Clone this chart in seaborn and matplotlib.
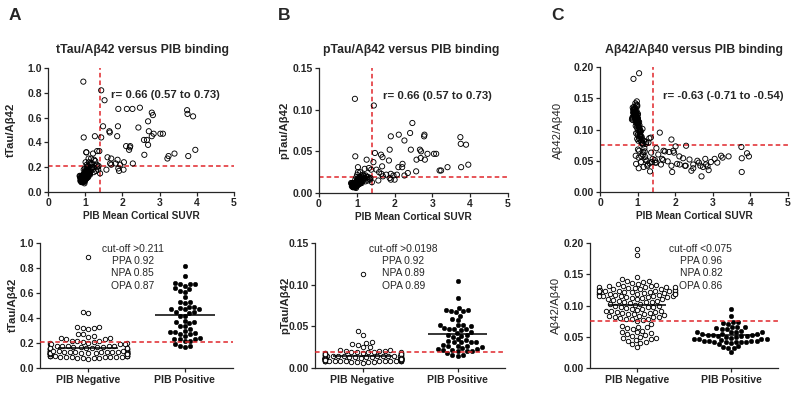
import numpy as np
import pandas as pd
import matplotlib
matplotlib.use("Agg")
import matplotlib.pyplot as plt
import seaborn as sns

sns.set_style("ticks")
plt.rcParams['font.family'] = ['Liberation Sans', 'DejaVu Sans']

# ---------------- data ----------------
categories = ["PIB Negative", "PIB Positive"]

pib_neg = [0.92, 1.05, 0.98, 1.12, 0.89, 1.01, 0.95, 1.08, 0.97, 1.03,
           0.90, 1.15, 0.99, 1.06, 0.94, 1.10, 0.87, 1.02, 0.96, 1.21,
           1.00, 0.93, 1.07, 0.91, 1.04, 0.98, 1.13, 0.88, 1.01, 0.95,
           1.18, 0.97, 1.09, 0.92, 1.26, 1.03, 0.99, 0.86, 1.11, 0.94,
           1.05, 1.00, 0.90, 1.14, 0.96, 1.32, 1.02, 0.93, 1.08, 0.98,
           1.24, 0.91, 1.06, 0.97, 1.00, 1.17, 0.89, 1.04, 0.95, 1.38,
           0.99, 1.12, 0.93, 1.07, 1.01, 0.85, 1.29, 0.96, 1.03, 0.92,
           1.10, 0.98, 1.35, 0.94, 1.05, 1.00, 0.90, 1.16, 0.97, 1.02,
           0.88, 1.22, 0.95, 1.08, 0.99, 1.04, 0.93, 1.40, 1.01, 0.96,
           1.13, 0.91, 1.06, 0.98, 1.19, 0.94, 1.03, 0.87, 1.31, 1.00,
           0.97, 1.09, 0.92, 1.02, 1.27, 0.95, 1.05, 0.99, 0.90, 1.14,
           1.01, 0.94, 1.36, 0.98, 1.07, 0.93, 1.20, 0.96, 1.04, 0.89,
           1.23, 0.97, 1.33, 1.00, 0.95]

ttau_neg = [0.12, 0.15, 0.10, 0.18, 0.09, 0.13, 0.89, 0.16, 0.11, 0.14,
            0.08, 0.22, 0.12, 0.17, 0.10, 0.14, 0.13, 0.11, 0.44, 0.31,
            0.15, 0.09, 0.13, 0.11, 0.19, 0.12, 0.16, 0.10, 0.24, 0.14,
            0.20, 0.11, 0.27, 0.13, 0.45, 0.32, 0.09, 0.12, 0.15, 0.08,
            0.12, 0.17, 0.10, 0.23, 0.14, 0.33, 0.11, 0.13, 0.18, 0.07,
            0.26, 0.12, 0.14, 0.10, 0.16, 0.19, 0.11, 0.22, 0.13, 0.33,
            0.09, 0.15, 0.12, 0.21, 0.10, 0.13, 0.17, 0.11, 0.14, 0.12,
            0.24, 0.13, 0.18, 0.09, 0.12, 0.15, 0.10, 0.27, 0.08, 0.16,
            0.11, 0.20, 0.14, 0.12, 0.19, 0.13, 0.09, 0.15, 0.11, 0.18,
            0.14, 0.10, 0.16, 0.12, 0.23, 0.13, 0.32, 0.09, 0.22, 0.12,
            0.10, 0.14, 0.11, 0.17, 0.25, 0.12, 0.13, 0.15, 0.08, 0.19,
            0.12, 0.11, 0.21, 0.14, 0.16, 0.10, 0.18, 0.13, 0.11, 0.12,
            0.16, 0.14, 0.20, 0.13, 0.11]

ptau_neg = [0.011, 0.013, 0.009, 0.016, 0.008, 0.012, 0.113, 0.014, 0.010, 0.012,
            0.007, 0.021, 0.011, 0.015, 0.009, 0.013, 0.012, 0.010, 0.044, 0.029,
            0.013, 0.008, 0.012, 0.010, 0.017, 0.011, 0.014, 0.009, 0.022, 0.012,
            0.018, 0.010, 0.025, 0.011, 0.040, 0.031, 0.008, 0.011, 0.013, 0.007,
            0.011, 0.015, 0.009, 0.019, 0.012, 0.030, 0.010, 0.011, 0.016, 0.006,
            0.021, 0.011, 0.012, 0.009, 0.014, 0.017, 0.010, 0.018, 0.011, 0.028,
            0.008, 0.013, 0.011, 0.019, 0.009, 0.012, 0.015, 0.010, 0.012, 0.011,
            0.018, 0.012, 0.016, 0.008, 0.011, 0.013, 0.009, 0.022, 0.007, 0.014,
            0.010, 0.018, 0.012, 0.011, 0.019, 0.012, 0.008, 0.013, 0.010, 0.016,
            0.012, 0.009, 0.014, 0.011, 0.021, 0.012, 0.025, 0.008, 0.019, 0.011,
            0.009, 0.012, 0.010, 0.015, 0.019, 0.011, 0.012, 0.013, 0.007, 0.017,
            0.011, 0.010, 0.018, 0.012, 0.014, 0.009, 0.016, 0.012, 0.010, 0.011,
            0.014, 0.012, 0.017, 0.011, 0.010]

ab_neg = [0.125, 0.098, 0.118, 0.078, 0.131, 0.112, 0.058, 0.089, 0.122, 0.105,
          0.136, 0.064, 0.115, 0.093, 0.128, 0.081, 0.120, 0.108, 0.045, 0.052,
          0.110, 0.132, 0.097, 0.124, 0.086, 0.119, 0.078, 0.127, 0.068, 0.116,
          0.070, 0.121, 0.048, 0.129, 0.042, 0.055, 0.139, 0.118, 0.088, 0.142,
          0.102, 0.095, 0.133, 0.060, 0.117, 0.046, 0.113, 0.126, 0.083, 0.145,
          0.050, 0.123, 0.100, 0.130, 0.091, 0.082, 0.181, 0.066, 0.114, 0.048,
          0.137, 0.084, 0.119, 0.088, 0.125, 0.116, 0.079, 0.121, 0.104, 0.127,
          0.057, 0.111, 0.087, 0.134, 0.096, 0.106, 0.122, 0.040, 0.140, 0.099,
          0.115, 0.077, 0.124, 0.090, 0.085, 0.112, 0.129, 0.053, 0.118, 0.094,
          0.101, 0.126, 0.092, 0.120, 0.065, 0.117, 0.038, 0.135, 0.086, 0.109,
          0.128, 0.097, 0.121, 0.082, 0.044, 0.113, 0.107, 0.124, 0.130, 0.076,
          0.116, 0.120, 0.063, 0.103, 0.091, 0.125, 0.056, 0.119, 0.190, 0.132,
          0.080, 0.110, 0.033, 0.123, 0.106]

pib_pos_a = [1.43, 1.48, 1.43, 1.65, 1.66, 1.89, 1.88, 1.86, 2.12, 2.27,
             2.47, 2.43, 2.10, 2.21, 2.20, 2.18, 1.60, 1.70, 1.70, 1.67,
             1.57, 1.87, 1.82, 1.91, 1.89, 2.03, 2.04, 1.94, 2.28, 2.69,
             2.79, 2.82, 2.71, 2.84, 2.79, 2.58, 2.66, 2.69, 2.59, 3.02,
             3.09, 3.21, 3.24, 3.40, 3.74, 3.75, 3.90, 3.77, 3.96, 1.52]
ttau_pos = [0.82, 0.53, 0.44, 0.49, 0.48, 0.67, 0.53, 0.45, 0.67, 0.67,
            0.68, 0.52, 0.37, 0.37, 0.36, 0.34, 0.28, 0.27, 0.22, 0.23,
            0.18, 0.26, 0.23, 0.17, 0.19, 0.18, 0.24, 0.22, 0.23, 0.57,
            0.64, 0.62, 0.49, 0.47, 0.45, 0.42, 0.42, 0.38, 0.30, 0.47,
            0.47, 0.27, 0.29, 0.31, 0.66, 0.63, 0.61, 0.29, 0.34, 0.74]

pib_pos_b = [1.45, 1.48, 1.44, 1.64, 1.68, 1.90, 2.11, 2.26, 2.41, 2.47,
             2.79, 2.78, 2.43, 2.67, 2.70, 2.69, 2.58, 2.80, 2.87, 3.04,
             3.10, 1.87, 1.85, 2.10, 2.20, 2.21, 2.57, 1.90, 1.97, 2.06,
             2.26, 1.67, 1.59, 1.65, 1.69, 1.87, 1.90, 2.00, 3.19, 3.23,
             3.40, 3.74, 3.75, 3.89, 3.76, 3.95, 1.57, 1.52, 1.78, 2.35]
ptau_pos = [0.105, 0.048, 0.037, 0.046, 0.043, 0.068, 0.070, 0.063, 0.072, 0.084,
            0.070, 0.068, 0.052, 0.052, 0.050, 0.042, 0.040, 0.040, 0.047, 0.047,
            0.047, 0.052, 0.039, 0.031, 0.031, 0.035, 0.026, 0.023, 0.021, 0.022,
            0.021, 0.032, 0.025, 0.023, 0.020, 0.018, 0.016, 0.016, 0.027, 0.027,
            0.031, 0.067, 0.059, 0.058, 0.031, 0.034, 0.015, 0.028, 0.022, 0.024]

pib_pos_c = [1.59, 1.50, 1.90, 2.01, 2.29, 1.69, 1.73, 1.84, 1.95, 1.97,
             2.11, 2.21, 1.65, 1.50, 1.62, 1.68, 1.90, 1.92, 2.12, 2.26,
             2.28, 2.43, 2.48, 2.48, 2.59, 2.63, 2.67, 2.70, 2.74, 2.80,
             2.82, 2.86, 2.89, 3.05, 3.12, 3.22, 3.26, 3.42, 3.76, 3.77,
             3.77, 3.91, 3.96, 1.46, 1.47, 1.55, 1.80, 2.05, 2.38, 2.95]
ab_pos = [0.095, 0.070, 0.084, 0.073, 0.074, 0.066, 0.065, 0.064, 0.066, 0.063,
          0.057, 0.054, 0.053, 0.047, 0.044, 0.051, 0.042, 0.032, 0.044, 0.042,
          0.042, 0.034, 0.038, 0.044, 0.050, 0.047, 0.042, 0.025, 0.040, 0.053,
          0.044, 0.041, 0.035, 0.053, 0.047, 0.058, 0.055, 0.057, 0.072, 0.054,
          0.032, 0.062, 0.057, 0.051, 0.047, 0.060, 0.049, 0.045, 0.052, 0.048]

pib_cut = 1.40
titles = ["tTau/A\u03b242 versus PIB binding", "pTau/A\u03b242 versus PIB binding",
          "A\u03b242/A\u03b240 versus PIB binding"]
ylabels = ["tTau/A\u03b242", "pTau/A\u03b242", "A\u03b242/A\u03b240"]
r_texts = ["r= 0.66 (0.57 to 0.73)", "r= 0.66 (0.57 to 0.73)", "r= -0.63 (-0.71 to -0.54)"]
cutoffs = [0.211, 0.0198, 0.075]
stats_texts = ["cut-off >0.211\nPPA 0.92\nNPA 0.85\nOPA 0.87",
               "cut-off >0.0198\nPPA 0.92\nNPA 0.89\nOPA 0.89",
               "cut-off <0.075\nPPA 0.96\nNPA 0.82\nOPA 0.86"]
yticks = [[0.0, 0.2, 0.4, 0.6, 0.8, 1.0], [0.0, 0.05, 0.10, 0.15], [0.0, 0.05, 0.10, 0.15, 0.20]]
yfmt = ["{:.1f}", "{:.2f}", "{:.2f}"]
xticks_top = [0, 1, 2, 3, 4, 5]

neg_vals = [ttau_neg, ptau_neg, ab_neg]
pos_x = [pib_pos_a, pib_pos_b, pib_pos_c]
pos_vals = [ttau_pos, ptau_pos, ab_pos]

# ---------------- layout (pixels) ----------------
W, H = 800, 394
top_rects = [(48, 68, 234, 192), (319, 68, 508, 193), (600, 67, 788, 192)]
bot_rects = [(40, 243, 233, 368), (315, 243, 505, 368), (590, 243, 778, 368)]
title_x = [142, 411, 694]
letters = [("A", 15), ("B", 284), ("C", 557)]
ylab_top_x = [11, 284, 558]
ylab_bot_x = [13, 285, 556]
ylab_weight = ["bold", "bold", "normal"]
r_pos = [(1.70, 0.78), (1.69, 0.116), (1.68, 0.154)]
stats_x = [0.46, 0.43, 0.68]

RED = "#e0262b"


def rect(l, t, r, b):
    return [l / W, 1 - b / H, (r - l) / W, (b - t) / H]


def style_axis(ax):
    sns.despine(ax=ax)
    for s in ("left", "bottom"):
        ax.spines[s].set_linewidth(0.9)
    ax.tick_params(labelsize=7.5, length=3, width=0.9, pad=1.5, direction="out")
    for lbl in ax.get_xticklabels() + ax.get_yticklabels():
        lbl.set_fontweight("bold")


fig = plt.figure(figsize=(8, 3.94), dpi=100)

for i in range(3):
    # ---- top scatter ----
    ax = fig.add_axes(rect(*top_rects[i]))
    xs = list(pib_neg) + list(pos_x[i])
    ys = list(neg_vals[i]) + list(pos_vals[i])
    sns.scatterplot(x=xs, y=ys, ax=ax, s=14, facecolors="none",
                    edgecolor="black", linewidth=0.65, legend=False)
    ax.axhline(cutoffs[i], color=RED, lw=1.1, ls=(0, (3, 2)), zorder=0)
    ax.axvline(pib_cut, color=RED, lw=1.1, ls=(0, (3, 2)), zorder=0)
    ax.set_xlim(0, 5)
    ax.set_ylim(yticks[i][0], yticks[i][-1])
    ax.set_xticks(xticks_top)
    ax.set_xticklabels([str(t) for t in xticks_top])
    ax.set_yticks(yticks[i])
    ax.set_yticklabels([yfmt[i].format(t) for t in yticks[i]])
    ax.set_xlabel("PIB Mean Cortical SUVR", fontsize=7.3, fontweight="bold", labelpad=2)
    ax.set_ylabel("")
    ax.text(r_pos[i][0], r_pos[i][1], r_texts[i], fontsize=8.2, fontweight="bold",
            ha="left", va="center")
    style_axis(ax)
    fig.text(title_x[i] / W, 1 - 50 / H, titles[i], fontsize=8.8, fontweight="bold",
             ha="center", va="center")
    fig.text(ylab_top_x[i] / W, 1 - 130 / H, ylabels[i], fontsize=8.2, fontweight=ylab_weight[i],
             rotation=90, ha="center", va="center")
    fig.text(letters[i][1] / W, 1 - 15 / H, letters[i][0], fontsize=12.5, fontweight="bold",
             ha="center", va="center")

    # ---- bottom swarm ----
    axb = fig.add_axes(rect(*bot_rects[i]))
    df_neg = pd.DataFrame({"grp": [categories[0]] * len(neg_vals[i]), "val": neg_vals[i]})
    df_pos = pd.DataFrame({"grp": [categories[1]] * len(pos_vals[i]), "val": pos_vals[i]})
    sns.swarmplot(data=df_neg, x="grp", y="val", order=categories, ax=axb, color="white",
                  edgecolor="black", linewidth=0.65, size=3.2, warn_thresh=1.0)
    sns.swarmplot(data=df_pos, x="grp", y="val", order=categories, ax=axb, color="black",
                  edgecolor="black", linewidth=0.3, size=3.3, warn_thresh=1.0)
    for k, vals in enumerate([neg_vals[i], pos_vals[i]]):
        m = float(np.mean(vals))
        axb.hlines(m, k - 0.31, k + 0.31, color="black", lw=1.1, zorder=5)
    axb.axhline(cutoffs[i], color=RED, lw=1.1, ls=(0, (3, 2)), zorder=6)
    axb.set_xlim(-0.5, 1.5)
    axb.set_ylim(yticks[i][0], yticks[i][-1])
    axb.set_yticks(yticks[i])
    axb.set_yticklabels([yfmt[i].format(t) for t in yticks[i]])
    axb.set_xlabel("")
    axb.set_ylabel("")
    axb.text(stats_x[i], yticks[i][-1] * 0.995, stats_texts[i], fontsize=7.4,
             ha="center", va="top", linespacing=1.3)
    style_axis(axb)
    axb.tick_params(axis="x", labelsize=7.6, pad=2)
    fig.text(ylab_bot_x[i] / W, 1 - 305 / H, ylabels[i], fontsize=8.2, fontweight=ylab_weight[i],
             rotation=90, ha="center", va="center")

fig.savefig("out.png", dpi=100)
